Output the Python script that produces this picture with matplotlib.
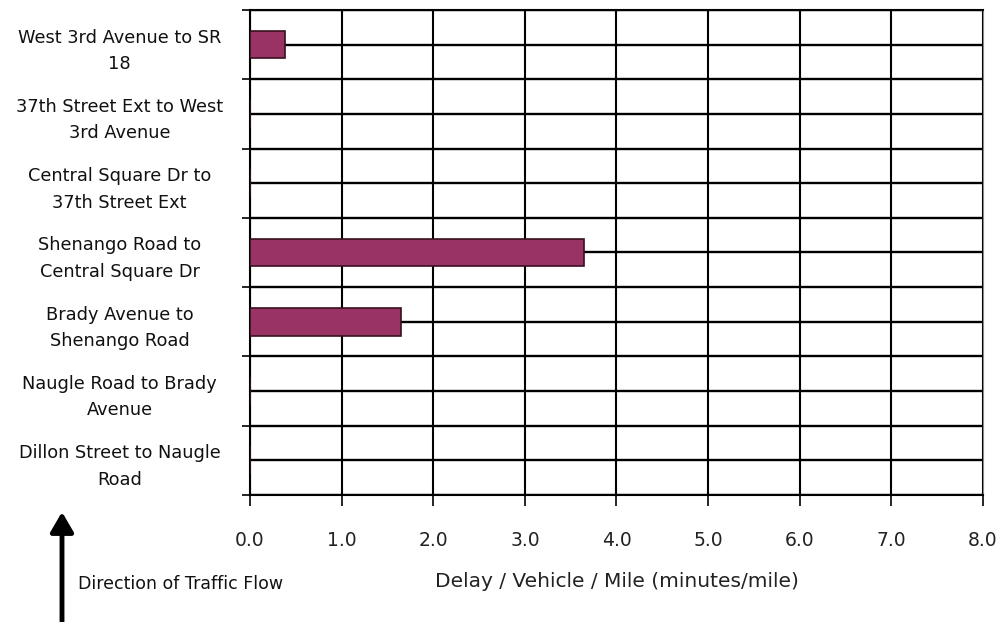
import numpy as np
import matplotlib
matplotlib.use("Agg")
import matplotlib.pyplot as plt

segments = [
    "West 3rd Avenue to SR\n18",
    "37th Street Ext to West\n3rd Avenue",
    "Central Square Dr to\n37th Street Ext",
    "Shenango Road to\nCentral Square Dr",
    "Brady Avenue to\nShenango Road",
    "Naugle Road to Brady\nAvenue",
    "Dillon Street to Naugle\nRoad",
]
delay = [0.38, 0.0, 0.0, 3.65, 1.65, 0.0, 0.0]
xticks = [0, 1, 2, 3, 4, 5, 6, 7, 8]

plt.rcParams['font.family'] = ['DejaVu Sans']

fig = plt.figure(figsize=(10.03, 6.22), dpi=100)
ax = fig.add_axes([0.2493, 0.2042, 0.7307, 0.7798])

y = np.arange(len(segments))
ax.barh(y, delay, height=0.4, color='#993366', edgecolor='#3a1020', linewidth=1.2, zorder=3)

ax.set_xlim(0, 8)
ax.set_ylim(len(segments) - 0.5, -0.5)

ax.set_xticks(xticks)
ax.set_xticklabels([f"{v:.1f}" for v in xticks], fontsize=13.5, color='#222222')
ax.set_yticks(y)
ax.set_yticklabels(segments, fontsize=12.8, ha='center', linespacing=1.6, color='#111111')
ax.set_yticks(np.arange(len(segments) + 1) - 0.5, minor=True)

ax.tick_params(axis='y', which='major', length=0, pad=94)
ax.tick_params(axis='y', which='minor', length=6, width=1.2, direction='out')
ax.tick_params(axis='x', length=8, width=1.2, direction='out', pad=18)

ax.grid(True, axis='x', color='black', linewidth=1.5, zorder=0)
ax.grid(True, axis='y', which='both', color='black', linewidth=1.7, zorder=0)
ax.set_axisbelow(True)

for s in ['left', 'bottom', 'top']:
    ax.spines[s].set_linewidth(1.5)
ax.spines['right'].set_color('#888888')

ax.set_xlabel("Delay / Vehicle / Mile (minutes/mile)", fontsize=14.5, labelpad=16,
              color='#222222')

fig.text(78 / 1003, 1 - 584 / 622, "Direction of Traffic Flow", fontsize=12.5,
         va='center', ha='left', color='#111111')
ax.annotate("", xy=(62, 622 - 512), xytext=(62, 0), xycoords='figure pixels',
            textcoords='figure pixels',
            arrowprops=dict(arrowstyle='-|>,head_width=0.7,head_length=1.2',
                            color='black', linewidth=3.5, shrinkA=0, shrinkB=0))

fig.savefig("out.png", dpi=100)
